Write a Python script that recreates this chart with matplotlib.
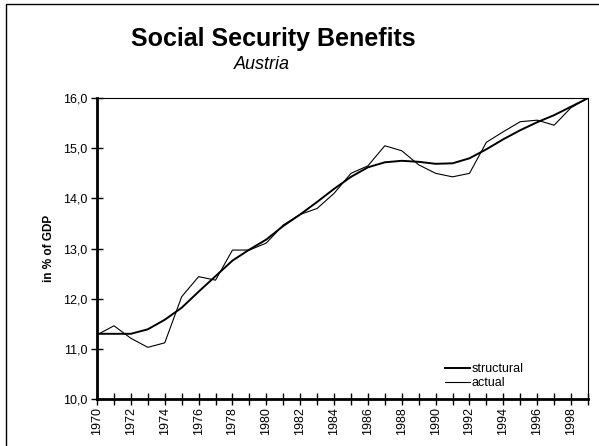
import matplotlib
matplotlib.use('Agg')
import matplotlib.pyplot as plt
from matplotlib.patches import Rectangle

plt.rcParams['font.family'] = ['Liberation Sans', 'DejaVu Sans']

years = list(range(1970, 2000))
actual = [11.28, 11.46, 11.21, 11.03, 11.12, 12.04, 12.44, 12.37, 12.97, 12.97,
          13.11, 13.47, 13.68, 13.80, 14.10, 14.50, 14.65, 15.05, 14.95, 14.67,
          14.50, 14.43, 14.50, 15.12, 15.33, 15.53, 15.56, 15.46, 15.81, 16.00]
structural = [11.30, 11.30, 11.30, 11.39, 11.58, 11.82, 12.14, 12.45, 12.76, 12.98,
              13.18, 13.45, 13.68, 13.93, 14.19, 14.43, 14.62, 14.72, 14.75, 14.73,
              14.69, 14.70, 14.80, 14.98, 15.18, 15.36, 15.52, 15.66, 15.83, 16.00]
yticks = [10, 11, 12, 13, 14, 15, 16]
ytick_labels = ['10,0', '11,0', '12,0', '13,0', '14,0', '15,0', '16,0']

fig = plt.figure(figsize=(5.99, 4.46), dpi=100)
ax = fig.add_axes([0.162, 0.1054, 0.8196, 0.6746])

ax.plot(years, structural, color='black', lw=1.4, label='structural')
ax.plot(years, actual, color='black', lw=0.8, label='actual')

ax.set_xlim(1970, 1999)
ax.set_ylim(10, 16)
ax.set_xticks(years)
ax.set_xticklabels([str(y) if y % 2 == 0 else '' for y in years], rotation=90, fontsize=9)
ax.set_yticks(yticks)
ax.set_yticklabels(ytick_labels, fontsize=9)
ax.tick_params(axis='both', direction='inout', length=8, width=1, color='black')
ax.tick_params(axis='x', pad=2)
ax.tick_params(axis='y', pad=3)

for s in ['left', 'bottom']:
    ax.spines[s].set_linewidth(2)
for s in ['top', 'right']:
    ax.spines[s].set_linewidth(0.8)

ax.set_ylabel('in % of GDP', fontsize=8.5, fontweight='bold', labelpad=6)

# legend placed in figure pixels, like the original
leg = ax.legend(loc='upper left', bbox_to_anchor=(445 / 599, 1 - 363 / 446),
                bbox_transform=fig.transFigure, frameon=False, borderpad=0,
                borderaxespad=0, fontsize=9, handlelength=2.0, handletextpad=0.1,
                labelspacing=0.15)

fig.text(273 / 599, 1 - 46 / 446, 'Social Security Benefits', ha='center', va='baseline',
         fontsize=18, fontweight='bold')
fig.text(262 / 599, 1 - 69 / 446, 'Austria', ha='center', va='baseline', fontsize=13,
         style='italic')

# outer frame (only top/left visible in the original crop)
fig.patches.append(Rectangle((6 / 599, -0.05), 1.2, (446 - 4) / 446 + 0.05,
                             transform=fig.transFigure, fill=False, lw=1, ec='black'))

fig.savefig('out.png', dpi=100)
